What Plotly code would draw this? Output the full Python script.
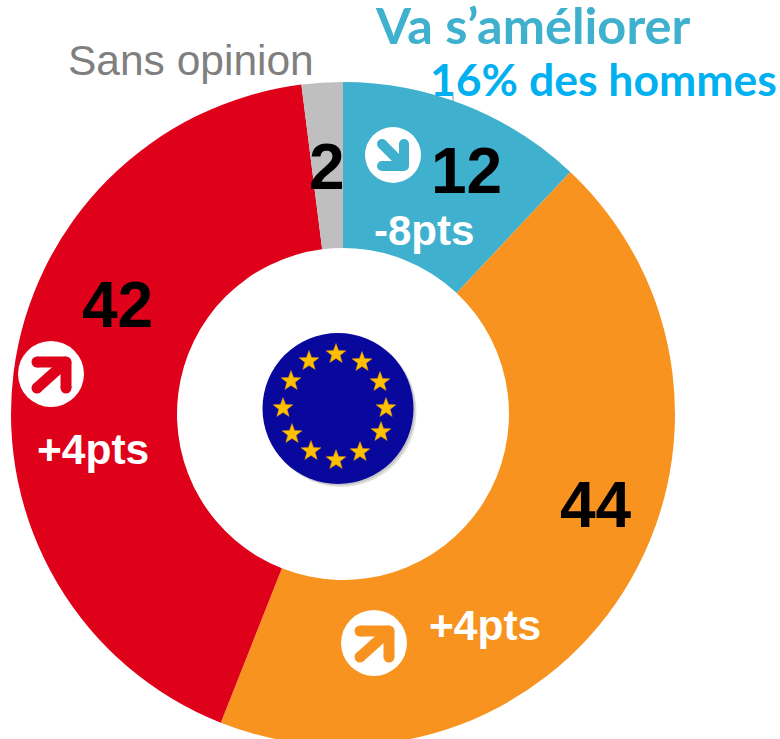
import math
import plotly.graph_objects as go

# Data
categories = ["Va s'améliorer", "Va se dégrader", "Va rester pareil", "Sans opinion"]
values = [12, 44, 42, 2]
slice_colors = ["#3FB1CE", "#F7931E", "#DF001A", "#BFBFBF"]
changes = ["-8pts", "+4pts", "+4pts"]

W, H = 780, 746
CX, CY, R = 343, 414, 332
HOLE = 166 / 332


def px(x, y):
    return x / W, 1 - y / H


def circle(cx, cy, r, color, opacity=1.0):
    x0, y0 = px(cx - r, cy - r)
    x1, y1 = px(cx + r, cy + r)
    return dict(type="circle", xref="paper", yref="paper", x0=x0, y0=y0, x1=x1, y1=y1,
                fillcolor=color, line=dict(width=0), opacity=opacity, layer="above")


def path_shape(points, fill=None, line=None, width=0):
    parts = []
    for i, (x, y) in enumerate(points):
        u, v = px(x, y)
        parts.append(("M" if i == 0 else "L") + f"{u:.5f},{v:.5f}")
    if fill:
        parts.append("Z")
    return dict(type="path", xref="paper", yref="paper", path=" ".join(parts),
                fillcolor=fill if fill else "rgba(0,0,0,0)",
                line=dict(color=line if line else "rgba(0,0,0,0)", width=width), layer="above")


def arrow_icon(cx, cy, r, color, pts, stem, width):
    """White disc with a rounded-cap arrow: pts is the bent head, stem joins its corner."""
    out = [circle(cx, cy, r, "white")]
    abs_pts = [(cx + a, cy + b) for a, b in pts]
    out.append(path_shape(abs_pts[:2], line=color, width=width))
    out.append(path_shape(abs_pts[1:], line=color, width=width))
    s = (cx + stem[0], cy + stem[1])
    out.append(path_shape([abs_pts[1], s], line=color, width=width))
    for p in abs_pts + [s]:
        out.append(circle(p[0], p[1], width / 2, color))
    return out


def star(cx, cy, r):
    pts = []
    for k in range(10):
        rr = r if k % 2 == 0 else r * 0.42
        a = math.pi * k / 5
        pts.append((cx + rr * math.sin(a), cy - rr * math.cos(a)))
    return path_shape(pts, fill="#FFC000", line="#D98A10", width=0.5)


shapes = []
# Tiny leftover mark under the men's line
shapes.append(path_shape([(453, 96), (453, 102)], line="#5F9FB0", width=1))
# Flag
FLAG_X, FLAG_Y, FLAG_R = 338, 408.5, 75.5
shapes.append(circle(FLAG_X + 3, FLAG_Y + 3, FLAG_R, "#BDBDBD", 0.45))
shapes.append(circle(FLAG_X + 1.5, FLAG_Y + 1.5, FLAG_R, "#9A9A9A", 0.4))
shapes.append(circle(FLAG_X, FLAG_Y, FLAG_R, "#08089C"))
stars = [(336, 354), (362, 362), (380, 382), (386, 408), (381, 432), (360, 452),
         (336, 460), (311, 451), (292, 434), (283, 408), (291, 381), (309, 361)]
for sx, sy in stars:
    shapes.append(star(sx, sy, 10.5))

up_head = [(-14, -12), (15, -12), (15, 14)]
shapes += arrow_icon(51, 374, 33, "#DF001A", up_head, (-14, 14), 11)
shapes += arrow_icon(374, 643, 33, "#F7931E", up_head, (-14, 14), 11)
shapes += arrow_icon(393, 155, 28, "#3FB1CE", [(11, -11), (11, 11), (-11, 11)], (-11, -11), 10)


def label(text, x, y, size, color, family="Liberation Sans", bold=True):
    u, v = px(x, y)
    return dict(text=f"<b>{text}</b>" if bold else text, x=u, y=v, xref="paper", yref="paper",
                xanchor="center", yanchor="middle", showarrow=False, borderpad=0,
                font=dict(family=family, size=size, color=color))


annotations = [
    label("Sans opinion", 191, 60, 42.5, "#7F7F7F", bold=False),
    label("Va s’améliorer", 532, 24, 50.5, "#3FB1CE", family="Lato"),
    label("16% des hommes", 603, 79, 44.5, "#00B0F0", family="Lato"),
    label(str(values[0]), 466.5, 171, 64, "black"),
    label(str(values[3]), 327, 167, 64, "black"),
    label(str(values[2]), 117, 305, 64, "black"),
    label(str(values[1]), 596, 505, 64, "black"),
    label(changes[0], 424.5, 230, 42, "white"),
    label(changes[1], 485, 625, 42.5, "white"),
    label(changes[2], 93, 450, 42.5, "white"),
]

fig = go.Figure(go.Pie(
    labels=categories, values=values, sort=False, direction="clockwise", rotation=0,
    hole=HOLE, textinfo="none", hoverinfo="label+value", showlegend=False,
    marker=dict(colors=slice_colors, line=dict(width=0)),
    domain=dict(x=[(CX - R) / W, (CX + R) / W], y=[1 - (CY + R) / H, 1 - (CY - R) / H]),
))
fig.update_layout(width=W, height=H, margin=dict(l=0, r=0, t=0, b=0),
                  paper_bgcolor="white", plot_bgcolor="white",
                  shapes=shapes, annotations=annotations)
fig.write_html("out.html", config={"displayModeBar": False},
               post_script="document.documentElement.style.overflow='hidden';document.body.style.overflow='hidden';document.body.style.margin='0';")
